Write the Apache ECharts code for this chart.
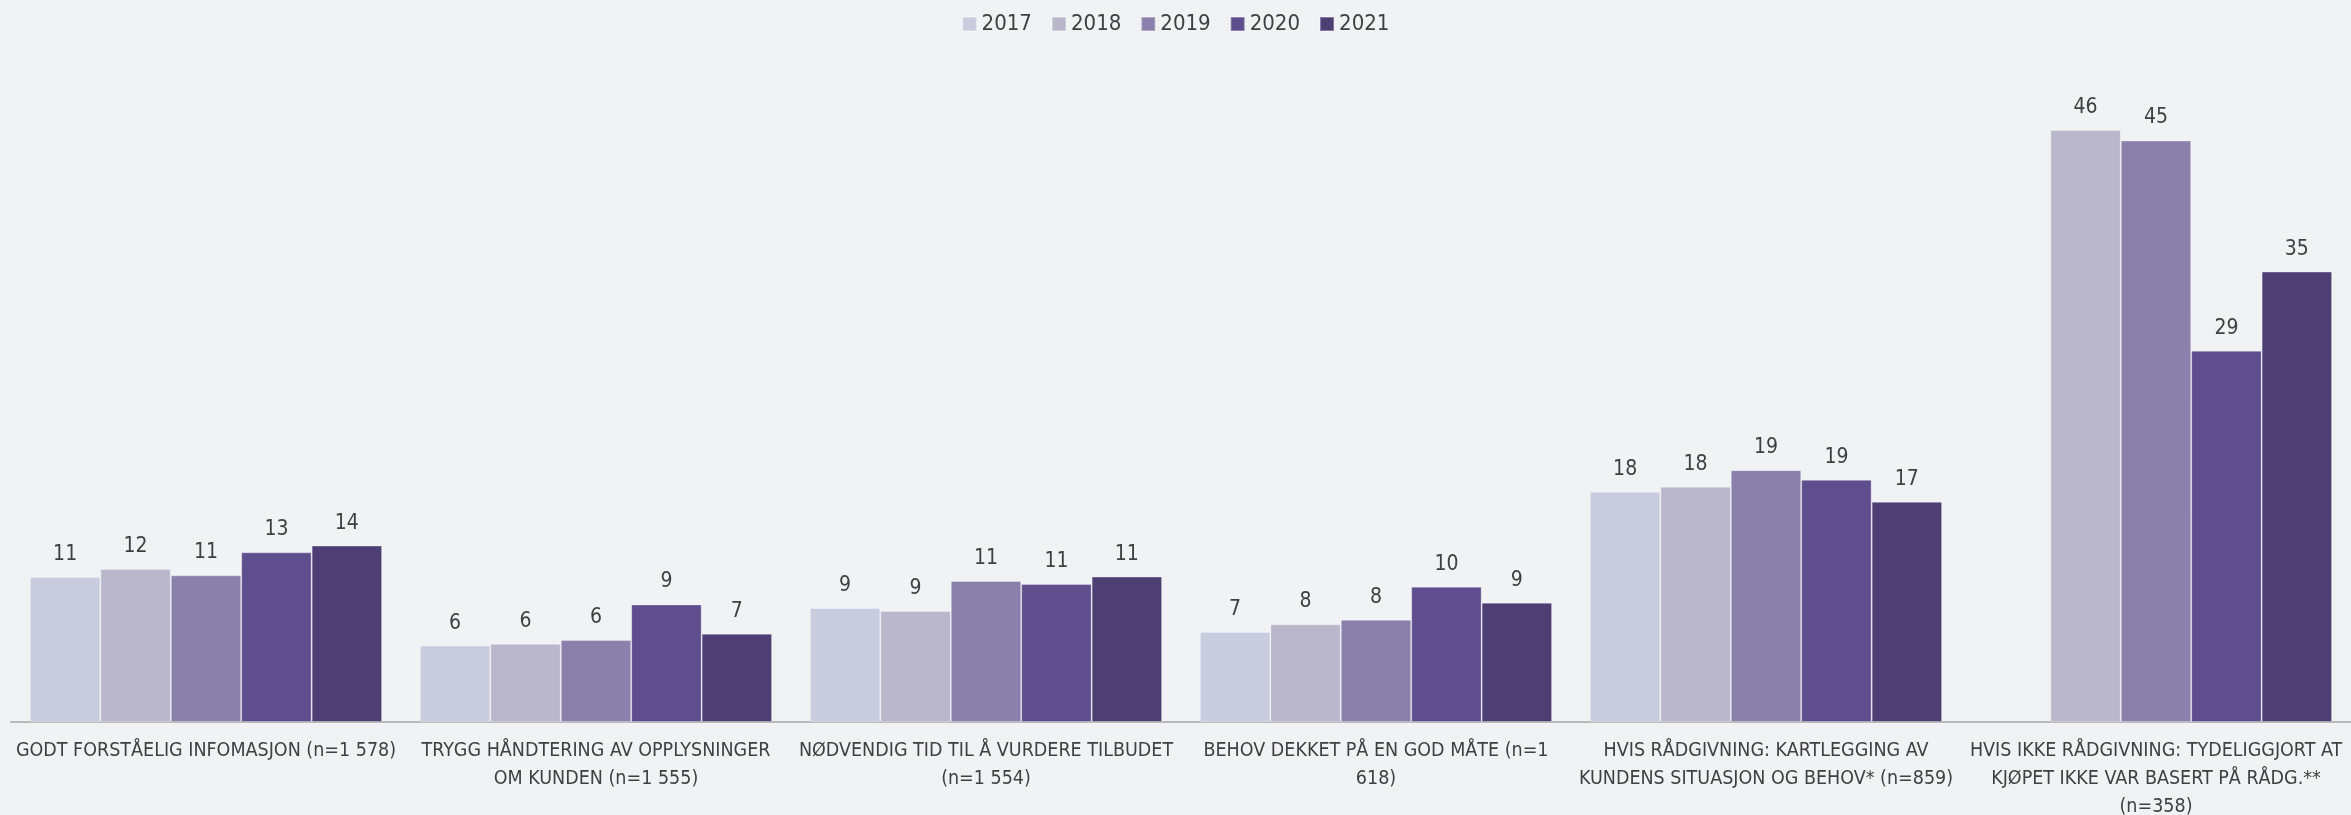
<!DOCTYPE html>
<html>
<head>
<meta charset="utf-8">
<script src="https://cdn.jsdelivr.net/npm/echarts@6/dist/echarts.min.js"></script>
<style>
  html, body { margin: 0; padding: 0; background: #f1f2f4; }
  #chart { width: 2351px; height: 815px; }
</style>
</head>
<body>
<div id="chart"></div>
<script>
var categories = [
  'GODT FORSTÅELIG INFOMASJON (n=1 578)',
  'TRYGG HÅNDTERING AV OPPLYSNINGER\nOM KUNDEN (n=1 555)',
  'NØDVENDIG TID TIL Å VURDERE TILBUDET\n(n=1 554)',
  'BEHOV DEKKET PÅ EN GOD MÅTE (n=1\n618)',
  'HVIS RÅDGIVNING: KARTLEGGING AV\nKUNDENS SITUASJON OG BEHOV* (n=859)',
  'HVIS IKKE RÅDGIVNING: TYDELIGGJORT AT\nKJØPET IKKE VAR BASERT PÅ RÅDG.**\n(n=358)'
];
var years = ['2017', '2018', '2019', '2020', '2021'];
var colors = ['#c9cbdf', '#bab7cd', '#8a80ab', '#5e4e8e', '#4d3f74'];

// values, labels show rounded numbers
var v2017 = [11.17, 5.89, 8.78, 6.93, 17.74, null];
var v2018 = [11.79, 6.02, 8.55, 7.54, 18.12, 45.6];
var v2019 = [11.30, 6.31, 10.86, 7.88, 19.40, 44.8];
var v2020 = [13.07, 9.06, 10.63, 10.42, 18.66, 28.6];
var v2021 = [13.59, 6.80, 11.20, 9.19, 16.96, 34.7];
var values = [v2017, v2018, v2019, v2020, v2021];

var fontFam = '"Liberation Sans Narrow", "DejaVu Sans Condensed", "Liberation Sans", sans-serif';

var chart = echarts.init(document.getElementById('chart'));

var series = years.map(function (y, i) {
  return {
    name: y,
    type: 'bar',
    barGap: 0,
    barCategoryGap: '9.7%',
    data: values[i],
    itemStyle: { color: colors[i], borderColor: 'rgba(255,255,255,0.3)', borderWidth: 1 },
    label: {
      show: true,
      position: 'top',
      distance: 12,
      color: '#404040',
      fontSize: 21,
      fontFamily: fontFam,
      formatter: function (p) { return Math.round(p.value); }
    }
  };
});

var option = {
  backgroundColor: '#f1f2f4',
  animation: false,
  color: colors,
  legend: {
    top: 8,
    left: 'center',
    itemWidth: 14,
    itemHeight: 14,
    itemGap: 19,
    icon: 'rect',
    textStyle: { color: '#404040', fontSize: 22, fontFamily: fontFam },
    data: years
  },
  grid: { left: 11, right: 0, top: 73, bottom: 93, containLabel: false, outerBoundsMode: 'none' },
  xAxis: {
    type: 'category',
    data: categories,
    axisLine: { lineStyle: { color: '#bababa', width: 2 } },
    axisTick: { show: false },
    axisLabel: {
      interval: 0,
      margin: 15,
      color: '#404040',
      fontSize: 19.5,
      lineHeight: 28,
      fontFamily: fontFam,
      align: 'center'
    }
  },
  yAxis: {
    type: 'value',
    min: 0,
    max: 50,
    show: false,
    splitLine: { show: false }
  },
  series: series
};

chart.setOption(option);
</script>
</body>
</html>
